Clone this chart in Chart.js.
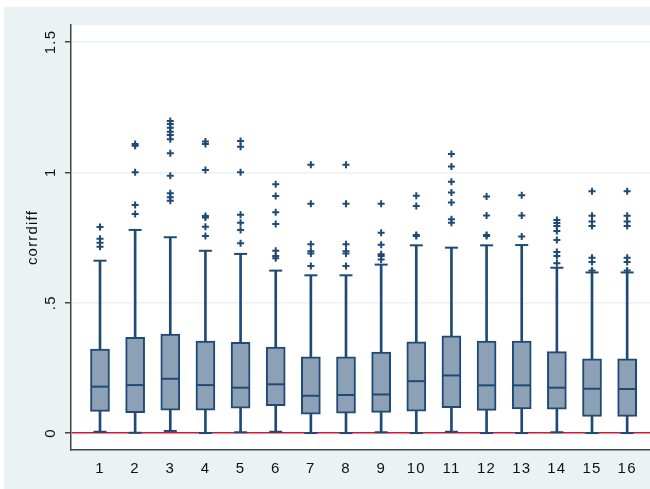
<!DOCTYPE html>
<html><head><meta charset="utf-8">
<script src="https://cdn.jsdelivr.net/npm/chart.js@4/dist/chart.umd.min.js"></script>
<style>html,body{margin:0;padding:0;background:#fff}#wrap{width:650px;height:489px}</style>
</head><body><div id="wrap"><canvas id="c"></canvas></div>
<script>
// box plot of corrdiff over 16 groups
const groups=[1,2,3,4,5,6,7,8,9,10,11,12,13,14,15,16]
const lo=[0.005,0.001,0.008,0.0,0.003,0.005,0.0,0.0,0.003,0.0,0.005,0.0,0.0,0.003,0.0,0.0]
const q1=[0.083,0.078,0.088,0.088,0.095,0.105,0.072,0.076,0.079,0.084,0.097,0.087,0.093,0.092,0.064,0.064]
const med=[0.178,0.184,0.208,0.184,0.174,0.187,0.143,0.146,0.148,0.199,0.221,0.183,0.183,0.174,0.170,0.169]
const q3=[0.322,0.367,0.380,0.353,0.348,0.330,0.292,0.292,0.311,0.350,0.373,0.353,0.353,0.312,0.285,0.285]
const hi=[0.661,0.779,0.751,0.699,0.687,0.623,0.605,0.605,0.646,0.720,0.711,0.720,0.721,0.634,0.616,0.616]
const outliers=[
[0.715,0.73,0.745,0.79],
[0.84,0.875,1.0,1.102,1.109],
[0.891,0.904,0.92,0.987,1.073,1.127,1.143,1.156,1.171,1.185,1.197],
[0.756,0.791,0.827,0.832,1.009,1.109,1.118],
[0.728,0.779,0.807,0.837,1.0,1.098,1.12],
[0.67,0.679,0.699,0.802,0.847,0.909,0.954],
[0.641,0.689,0.697,0.724,0.879,1.029],
[0.641,0.689,0.697,0.724,0.879,1.029],
[0.666,0.679,0.686,0.722,0.768,0.879],
[0.756,0.76,0.871,0.91],
[0.807,0.82,0.884,0.923,0.964,1.022,1.07],
[0.756,0.76,0.834,0.907],
[0.754,0.834,0.912],
[0.651,0.679,0.694,0.74,0.775,0.794,0.806,0.817],
[0.623,0.656,0.672,0.794,0.811,0.833,0.927],
[0.623,0.656,0.672,0.794,0.811,0.833,0.927]
]
const yTicks=[0,0.5,1,1.5]
const yLabels=["0",".5","1","1.5"]
const yTitle="corrdiff"

const navy="#1f4a76"
const boxFill="#8ca0b6"
const bgLight="#eaf2f3"
const red="#d4143a"
const axisCol="#454545"
const font='15px "Liberation Sans"'

const frame={
id:"frame",
beforeDraw(chart){
const c=chart.ctx,a=chart.chartArea
c.save()
c.fillStyle="#fff";c.fillRect(0,0,chart.width,chart.height)
c.fillStyle=bgLight;c.fillRect(4,7,chart.width-4,chart.height-7)
c.fillStyle="#fff";c.fillRect(a.left,a.top,chart.width-a.left,a.bottom-a.top)
c.restore()
c.letterSpacing="1.2px"
},
afterDraw(chart){
const c=chart.ctx,y=chart.scales.y,a=chart.chartArea
c.save()
c.font=font;c.fillStyle="#111";c.textAlign="center";c.textBaseline="middle"
yTicks.forEach((v,i)=>{
c.save();c.translate(51,y.getPixelForValue(v));c.rotate(-Math.PI/2);c.fillText(yLabels[i],0,0);c.restore()
})
c.translate(33,(a.top+a.bottom)/2);c.rotate(-Math.PI/2);c.fillText(yTitle,0,0)
c.restore()
}
}

const pts=[]
outliers.forEach((list,i)=>list.forEach(v=>pts.push({x:groups[i],y:v})))
const caps=[]
groups.forEach((g,i)=>{caps.push({x:g,y:lo[i]});caps.push({x:g,y:hi[i]})})

new Chart(document.getElementById("c"),{
type:"bar",
data:{datasets:[
{type:"scatter",data:groups.map((g,i)=>({x:g,y:med[i]})),pointStyle:"line",radius:9,borderWidth:2,borderColor:navy},
{type:"scatter",data:caps,pointStyle:"line",radius:6.5,borderWidth:2,borderColor:navy},
{type:"scatter",data:pts,pointStyle:"cross",radius:3.5,borderWidth:2,borderColor:navy},
{data:groups.map((g,i)=>({x:g,y:[q1[i],q3[i]]})),backgroundColor:boxFill,borderColor:navy,borderWidth:2,borderSkipped:false,barThickness:19,grouped:false},
{data:groups.map((g,i)=>({x:g,y:[q3[i],hi[i]]})),backgroundColor:navy,borderWidth:0,barThickness:2,grouped:false},
{data:groups.map((g,i)=>({x:g,y:[lo[i],q1[i]]})),backgroundColor:navy,borderWidth:0,barThickness:2,grouped:false}
]},
options:{
responsive:true,maintainAspectRatio:false,animation:false,
layout:{autoPadding:false,padding:{top:25,left:0,right:0,bottom:0}},
plugins:{legend:{display:false},tooltip:{enabled:false}},
scales:{
x:{type:"linear",offset:false,min:0.175,max:16.65,
afterBuildTicks(s){s.ticks=groups.map(v=>({value:v}))},
afterFit(s){s.height=39;s.paddingLeft=0;s.paddingRight=0},
grid:{display:false},
border:{color:axisCol,width:1.5},
ticks:{font:{family:"Liberation Sans",size:15},color:"#111",padding:2,autoSkip:false,maxRotation:0}},
y:{min:-0.065,max:1.565,
afterBuildTicks(s){s.ticks=yTicks.map(v=>({value:v}))},
afterFit(s){s.width=71},
ticks:{display:false},
grid:{color:c=>c.tick&&c.tick.value===0?red:bgLight,lineWidth:1.5,tickColor:axisCol,tickLength:6,tickWidth:1.5},
border:{color:axisCol,width:1.5}}
}
},
plugins:[frame]
})
</script></body></html>
